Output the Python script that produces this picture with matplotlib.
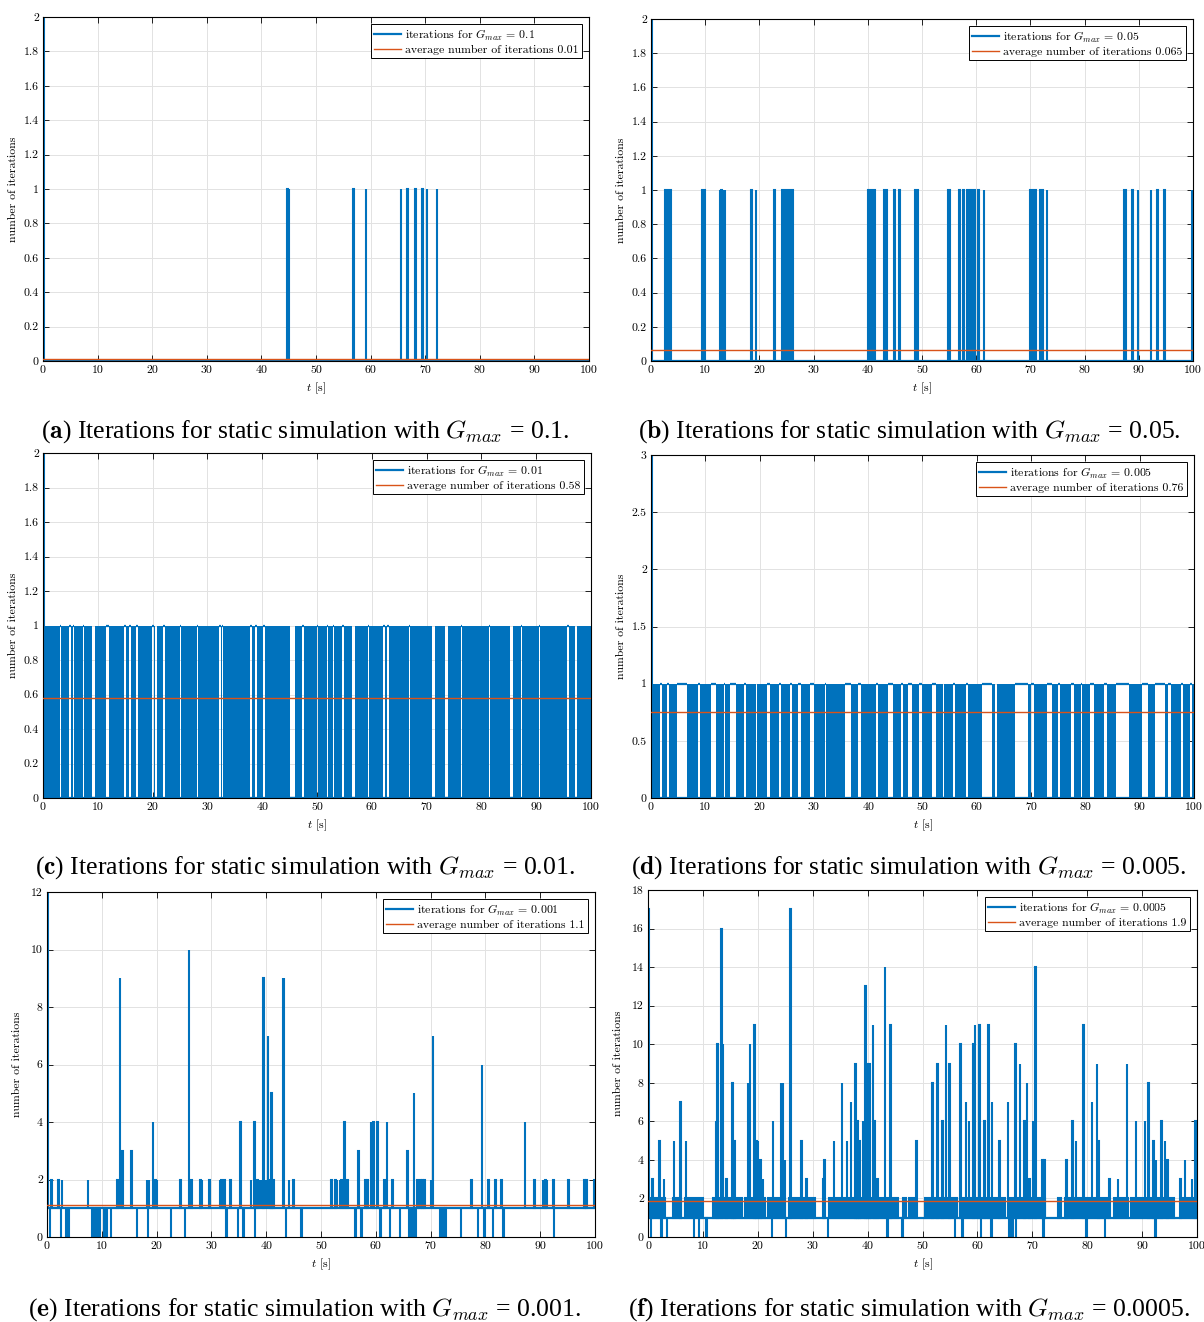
import numpy as np
import matplotlib
matplotlib.use('Agg')
import matplotlib.pyplot as plt
from matplotlib.ticker import MultipleLocator, FormatStrFormatter

plt.rcParams['mathtext.fontset'] = 'cm'
plt.rcParams['font.family'] = 'cmr10'
plt.rcParams['axes.unicode_minus'] = False

BLUE = '#0072BD'
ORANGE = '#D95319'
DT = 0.1      # sample width [s]
LW = 1.6
FS = 8.5
W, H = 1204, 1322

#########
# Datos #
#########

# (a) G_max = 0.1
a_first = 2
a_spike_t = [44.7, 45.0, 56.8, 59.1, 65.5, 66.7, 68.2, 69.5, 70.3, 72.1]
a_mean = 0.01

# (b) G_max = 0.05
b_first = 2
b_spike_t = [12.7, 13.0, 13.4, 13.6, 18.5, 19.3, 22.7, 44.9, 45.8, 56.9, 57.6,
             60.4, 61.4, 73.0, 88.8, 89.8, 92.2, 93.4, 94.7, 99.8]
b_blk_start = [2.5, 9.5, 24.1, 40.1, 43.0, 48.8, 54.8, 58.3, 59.3, 69.9, 71.7, 87.2]
b_blk_end = [3.6, 10.0, 26.2, 41.4, 43.6, 49.3, 55.2, 58.9, 59.8, 71.0, 72.3, 87.6]
b_mean = 0.062

# (c) G_max = 0.01 -> quiet stretches inside the dense switching
c_first = 2
c_gap_start = [3.05, 4.75, 5.4, 7.25, 9.0, 11.55, 14.85, 15.75, 16.95, 19.95, 20.5,
               21.95, 24.95, 28.05, 32.15, 32.6, 37.75, 38.75, 40.15, 45.1, 47.35,
               49.95, 51.75, 52.85, 54.65, 56.3, 59.25, 62.05, 62.85, 66.75, 71.0,
               73.4, 76.25, 81.35, 85.3, 87.15, 90.45, 95.65, 97.1]
c_gap_end = [3.35, 5.05, 5.65, 7.55, 9.45, 12.1, 15.15, 16.05, 17.25, 20.25, 20.75,
             22.25, 25.25, 28.35, 32.4, 32.85, 38.05, 39.05, 40.45, 45.9, 47.65,
             50.25, 52.05, 53.15, 54.95, 57.0, 59.55, 62.35, 63.15, 67.05, 71.5,
             73.9, 76.55, 81.65, 85.8, 87.45, 90.75, 95.95, 97.5]
c_gap_lvl = [1, 1, 1, 1, 0, 1, 1, 1, 1, 1, 0, 1, 1, 1, 1, 1, 1, 1, 1, 0, 1,
             1, 1, 1, 1, 0, 1, 1, 1, 1, 0, 0, 1, 1, 0, 1, 1, 1, 0]
c_mean = 0.58

# (d) G_max = 0.005
d_first = 3
d_gap_start = [1.6, 3.0, 4.8, 8.6, 11.0, 13.4, 14.6, 17.2, 19.3, 21.3, 23.5, 25.6,
               27.1, 29.3, 32.0, 35.7, 38.2, 41.5, 43.7, 46.0, 47.4, 49.4, 51.8,
               53.7, 55.6, 58.0, 60.9, 63.3, 67.0, 69.9, 72.9, 75.0, 77.3, 79.1,
               80.9, 83.5, 85.6, 90.4, 92.8, 95.3, 97.6, 99.3]
d_gap_end = [2.0, 3.3, 6.6, 9.0, 12.0, 13.7, 15.6, 17.5, 19.6, 21.9, 24.0, 25.9,
             27.7, 30.1, 32.3, 36.9, 38.6, 41.8, 44.6, 46.4, 48.0, 50.0, 52.5,
             54.0, 56.0, 58.4, 62.8, 63.7, 69.4, 70.6, 73.8, 75.4, 77.9, 79.4,
             81.6, 84.0, 88.0, 91.6, 94.6, 95.7, 98.0, 99.6]
d_gap_lvl = [1, 1, 1, 1, 1, 1, 1, 1, 0, 1, 1, 1, 1, 1, 1, 1, 1, 1, 1, 1, 1, 1, 1,
             0, 1, 1, 1, 0, 1, 1, 1, 1, 1, 1, 1, 1, 1, 1, 1, 1, 1, 1]
d_mean = 0.755

# (e) G_max = 0.001
e_first = 12
e_spike_t = [0.8, 2.0, 2.7, 7.4, 12.8, 13.3, 13.7, 15.4, 18.2, 18.6, 19.3, 19.7,
             20.0, 24.3, 25.9, 26.3, 28.0, 28.2, 29.6, 31.5, 31.8, 32.3, 33.4,
             35.3, 37.2, 37.8, 38.4, 38.8, 39.2, 39.5, 39.7, 39.9, 40.1, 40.3,
             40.5, 40.7, 40.9, 41.0, 41.3, 43.0, 43.2, 44.1, 44.9, 51.9, 52.6,
             52.9, 53.4, 53.7, 54.2, 54.8, 56.8, 58.1, 58.4, 59.1, 59.5, 60.3,
             61.5, 62.0, 63.0, 65.7, 66.9, 67.6, 68.1, 68.5, 68.8, 70.0, 70.4,
             77.4, 79.3, 80.5, 81.8, 82.9, 87.2, 88.9, 90.5, 90.9, 91.2, 92.4,
             95.1, 98.0, 98.4, 99.9]
e_spike_v = [2, 2, 2, 2, 2, 9, 3, 3, 2, 2, 4, 2,
             2, 2, 10, 2, 2, 2, 2, 2, 2, 2, 2,
             4, 2, 4, 2, 2, 2, 9, 2, 2, 2, 7,
             2, 2, 5, 2, 2, 9, 9, 2, 2, 2, 2,
             2, 2, 2, 4, 2, 3, 2, 2, 4, 4, 4,
             2, 4, 2, 3, 5, 2, 2, 2, 2, 2, 7,
             2, 6, 2, 2, 2, 4, 2, 2, 2, 2, 2,
             2, 2, 2, 2]
e_dip_t = [0.5, 2.5, 3.4, 3.7, 4.0, 8.3, 8.7, 9.0, 9.5, 10.4, 10.9, 11.6, 16.4,
           18.4, 22.6, 25.1, 32.7, 34.8, 35.8, 37.9, 43.6, 46.4, 56.2, 57.3, 60.8,
           62.5, 64.4, 66.0, 66.5, 67.0, 67.3, 71.8, 72.3, 72.7, 75.5, 78.6, 79.8,
           81.3, 83.3, 92.5]
e_mean = 1.13

# (f) G_max = 0.0005
f_first = 17
f_spike_t = [0.8, 2.0, 2.9, 4.7, 5.9, 6.9, 12.3, 12.6, 13.3, 13.6, 14.2, 15.3,
             15.7, 18.2, 18.5, 19.3, 19.7, 20.0, 20.4, 20.9, 22.7, 24.2, 24.5,
             24.9, 25.9, 27.9, 28.8, 31.9, 32.1, 33.8, 35.3, 36.2, 36.9, 37.7,
             38.1, 38.5, 39.1, 39.6, 39.9, 40.3, 40.9, 41.2, 41.8, 43.1, 44.1,
             48.9, 51.8, 52.7, 53.6, 54.2, 54.9, 56.9, 57.9, 58.4, 59.2, 59.5,
             60.3, 61.2, 62.0, 62.6, 64.0, 65.5, 66.9, 67.7, 68.5, 69.0, 69.4,
             70.1, 70.5, 71.8, 72.2, 76.2, 77.3, 77.9, 79.3, 80.8, 81.7, 82.0,
             84.0, 85.6, 87.2, 88.8, 90.5, 91.1, 92.0, 92.5, 93.5, 94.1, 94.6,
             96.9, 97.8, 99.0, 99.7]
f_spike_v = [3, 5, 3, 5, 7, 5, 6, 10, 16, 10, 3, 8,
             5, 8, 10, 11, 5, 5, 4, 3, 6, 8, 8,
             4, 17, 5, 3, 3, 4, 5, 8, 5, 7, 9,
             6, 5, 6, 13, 9, 9, 11, 6, 3, 14, 11,
             5, 8, 9, 6, 11, 9, 10, 7, 6, 10, 11,
             11, 6, 11, 7, 5, 7, 10, 9, 6, 8, 3,
             6, 14, 4, 4, 4, 6, 5, 11, 7, 9, 5,
             3, 3, 9, 6, 6, 8, 5, 4, 6, 5, 4,
             3, 4, 3, 6]
f_dip_t = [0.5, 2.4, 3.4, 8.3, 9.2, 10.6, 22.5, 25.1, 32.7, 43.6, 46.3, 55.9,
           57.2, 60.6, 62.5, 65.8, 66.3, 67.0, 72.0, 79.8, 83.2, 92.4]
# stretches switching 1 <-> 2
f_band_start = [0.2, 4.6, 6.7, 11.9, 17.7, 21.9, 25.6, 33.0, 46.5, 47.5, 50.5,
                56.8, 65.9, 74.6, 76.0, 84.9, 88.0, 97.1]
f_band_end = [3.1, 6.1, 10.1, 17.1, 21.3, 25.0, 30.4, 45.5, 47.0, 48.5, 56.2,
              65.0, 72.4, 75.2, 83.7, 87.4, 95.9, 100.0]
f_mean = 1.85

gmax_lbl = ['0.1', '0.05', '0.01', '0.005', '0.001', '0.0005']
mean_lbl = ['0.01', '0.065', '0.58', '0.76', '1.1', '1.9']
letters = ['a', 'b', 'c', 'd', 'e', 'f']


#############
# Funciones #
#############

def make_ax(box):
    x0, x1, y0, y1 = box
    return fig.add_axes([x0 / W, 1 - y1 / H, (x1 - x0) / W, (y1 - y0) / H])


def bars(ax, t, top, bottom, width=DT, lw=1.5):
    ax.bar(t, np.asarray(top, float) - np.asarray(bottom, float), bottom=bottom,
           width=width, align='edge', color=BLUE, edgecolor=BLUE, linewidth=lw,
           zorder=2)


def finish(ax, i, ymax, ystep, base, mean, box):
    x0, x1, y0, y1 = box
    ax.plot([0, 100], [base, base], color=BLUE, lw=LW, zorder=2,
            label=r'iterations for $G_{max}$ = ' + gmax_lbl[i])
    ax.plot([0, 100], [mean, mean], color=ORANGE, lw=1.0, zorder=3,
            label='average number of iterations ' + mean_lbl[i])
    ax.set_xlim(0, 100)
    ax.set_ylim(0, ymax)
    ax.xaxis.set_major_locator(MultipleLocator(10))
    ax.yaxis.set_major_locator(MultipleLocator(ystep))
    ax.xaxis.set_major_formatter(FormatStrFormatter('%g'))
    ax.yaxis.set_major_formatter(FormatStrFormatter('%g'))
    ax.tick_params(direction='in', length=4, width=0.6, top=True, right=True,
                   labelsize=FS, pad=3)
    ax.grid(True, color='#e2e2e2', lw=0.7)
    ax.set_axisbelow(True)
    for s in ax.spines.values():
        s.set_linewidth(0.8)
    ax.set_xlabel(r'$t$ [s]', fontsize=FS)
    ax.xaxis.set_label_coords(0.5, -20 / (y1 - y0))
    ax.set_ylabel('number of iterations', fontsize=FS)
    ax.yaxis.set_label_coords(-25 / (x1 - x0), 0.5)
    leg = ax.legend(loc='upper right', fontsize=FS, handlelength=2.3,
                    handletextpad=0.3, borderpad=0.3, labelspacing=0.15,
                    borderaxespad=0.6, fancybox=False, framealpha=1,
                    edgecolor='black')
    leg.get_frame().set_linewidth(0.7)
    cx = 305 if i % 2 == 0 else 909
    cy = [432, 432, 868, 868, 1310, 1310][i]
    fig.text(cx / W, 1 - cy / H,
             r'($\mathbf{' + letters[i] + r'}$) Iterations for static simulation with $G_{max}$ = '
             + gmax_lbl[i] + '.',
             ha='center', va='center', fontsize=18.5, family='Liberation Serif')


def dense_panel(ax, first, gs, ge, gl):
    # bloques de conmutacion rapida entre los tramos quietos
    starts = [0] + list(ge)
    ends = list(gs) + [100]
    bars(ax, starts, 1, 0, width=np.array(ends) - np.array(starts), lw=0)
    ax.hlines(gl, gs, ge, color=BLUE, lw=LW, zorder=2)
    bars(ax, [0], first, 0)


fig = plt.figure(figsize=(W / 100, H / 100), dpi=100)

boxes = [(43, 589, 17, 361), (651, 1193, 19, 361),
         (43, 591, 453, 798), (651, 1194, 455, 798),
         (47, 595, 892, 1237), (648, 1197, 890, 1237)]

# (a)
ax = make_ax(boxes[0])
bars(ax, a_spike_t, 1, 0)
bars(ax, [0], a_first, 0)
finish(ax, 0, 2, 0.2, 0, a_mean, boxes[0])

# (b)
ax = make_ax(boxes[1])
bars(ax, b_spike_t, 1, 0)
bars(ax, b_blk_start, 1, 0, width=np.array(b_blk_end) - np.array(b_blk_start))
bars(ax, [0], b_first, 0)
finish(ax, 1, 2, 0.2, 0, b_mean, boxes[1])

# (c)
ax = make_ax(boxes[2])
dense_panel(ax, c_first, c_gap_start, c_gap_end, c_gap_lvl)
finish(ax, 2, 2, 0.2, 0, c_mean, boxes[2])

# (d)
ax = make_ax(boxes[3])
dense_panel(ax, d_first, d_gap_start, d_gap_end, d_gap_lvl)
finish(ax, 3, 3, 0.5, 0, d_mean, boxes[3])

# (e)
ax = make_ax(boxes[4])
bars(ax, e_spike_t, e_spike_v, 1)
bars(ax, e_dip_t, 1, 0)
bars(ax, [0], e_first, 1)
finish(ax, 4, 12, 2, 1, e_mean, boxes[4])

# (f)
ax = make_ax(boxes[5])
bars(ax, f_band_start, 2, 1, width=np.array(f_band_end) - np.array(f_band_start))
bars(ax, f_spike_t, f_spike_v, 1)
bars(ax, f_dip_t, 1, 0)
bars(ax, [0], f_first, 1)
finish(ax, 5, 18, 2, 1, f_mean, boxes[5])

fig.savefig('out.png', dpi=100)
